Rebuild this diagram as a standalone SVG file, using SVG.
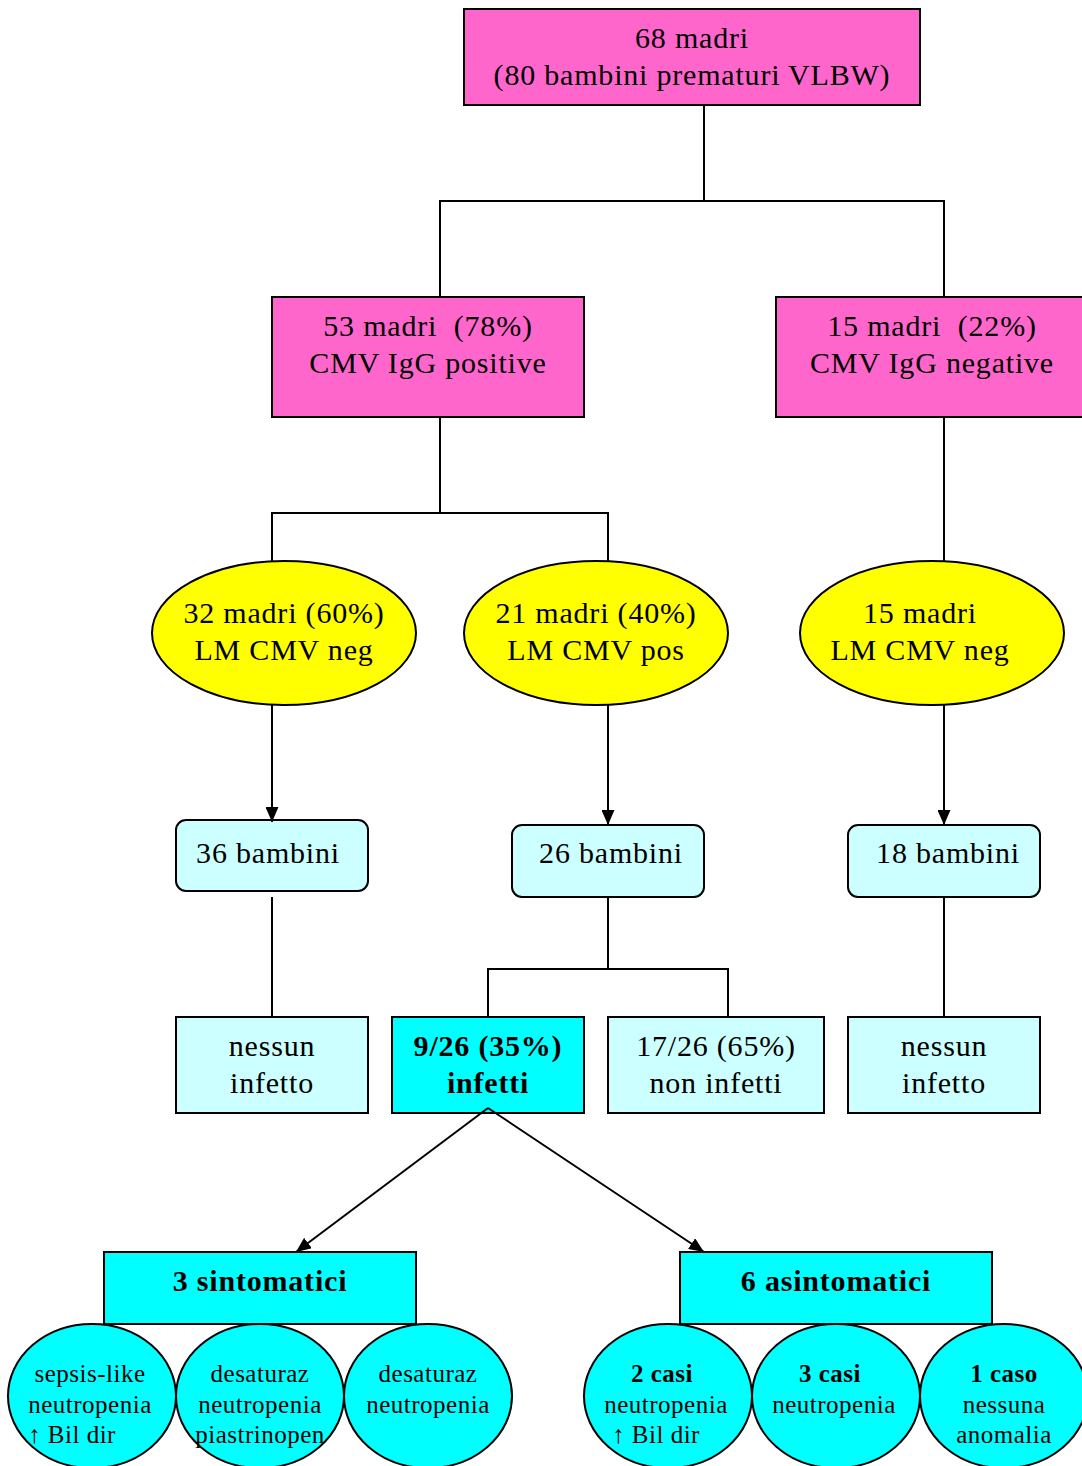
<svg xmlns="http://www.w3.org/2000/svg" width="1082" height="1466" viewBox="0 0 1082 1466">
<defs>
<marker id="ah" markerWidth="15" markerHeight="13" refX="15" refY="6.5" orient="auto" markerUnits="userSpaceOnUse">
<path d="M0,0 L15,6.5 L0,13 Z" fill="#000"/>
</marker>
<style>
.t{font-family:"Liberation Serif","Times New Roman",serif;font-size:30px;letter-spacing:0.8px;text-anchor:middle;fill:#000}
.b{font-weight:bold}
.s{font-family:"Liberation Serif","Times New Roman",serif;font-size:25px;letter-spacing:0.5px;text-anchor:middle;fill:#000}
.pink{fill:#FF66CC;stroke:#000;stroke-width:2}
.yel{fill:#FFFF00;stroke:#000;stroke-width:2}
.lc{fill:#CCFFFF;stroke:#000;stroke-width:2}
.cy{fill:#00FFFF;stroke:#000;stroke-width:2}
.ln{fill:none;stroke:#000;stroke-width:2}
</style>
</defs>
<rect width="1082" height="1466" fill="#fff"/>
<g id="n-top">
<rect class="pink" x="464" y="9" width="456" height="96"/>
<text class="t" x="692" y="48">68 madri</text>
<text class="t" x="692" y="85">(80 bambini prematuri VLBW)</text>
</g>
<g id="n-igg-pos">
<rect class="pink" x="272" y="297" width="312" height="120"/>
<text class="t" x="428" y="336" xml:space="preserve">53 madri  (78%)</text>
<text class="t" x="428" y="373">CMV IgG positive</text>
</g>
<g id="n-igg-neg">
<rect class="pink" x="776" y="297" width="312" height="120"/>
<text class="t" x="932" y="336" xml:space="preserve">15 madri  (22%)</text>
<text class="t" x="932" y="373">CMV IgG negative</text>
</g>
<g id="n-lm-neg">
<ellipse class="yel" cx="284" cy="633" rx="132" ry="72"/>
<text class="t" x="284" y="623">32 madri (60%)</text>
<text class="t" x="284" y="660">LM CMV neg</text>
</g>
<g id="n-lm-pos">
<ellipse class="yel" cx="596" cy="633" rx="132" ry="72"/>
<text class="t" x="596" y="623">21 madri (40%)</text>
<text class="t" x="596" y="660">LM CMV pos</text>
</g>
<g id="n-lm-neg2">
<ellipse class="yel" cx="932" cy="633" rx="132" ry="72"/>
<text class="t" x="920" y="623">15 madri</text>
<text class="t" x="920" y="660">LM CMV neg</text>
</g>
<g id="n-b36">
<rect class="lc" x="176" y="820" width="192" height="71" rx="10"/>
<text class="t" x="268" y="863">36 bambini</text>
</g>
<g id="n-b26">
<rect class="lc" x="512" y="825" width="192" height="72" rx="10"/>
<text class="t" x="611" y="863">26 bambini</text>
</g>
<g id="n-b18">
<rect class="lc" x="848" y="825" width="192" height="72" rx="10"/>
<text class="t" x="948" y="863">18 bambini</text>
</g>
<g id="n-nessun1">
<rect class="lc" x="176" y="1017" width="192" height="96"/>
<text class="t" x="272" y="1056">nessun</text>
<text class="t" x="272" y="1093">infetto</text>
</g>
<g id="n-infetti">
<rect class="cy" x="392" y="1017" width="192" height="96"/>
<text class="t b" x="488" y="1056">9/26 (35%)</text>
<text class="t b" x="488" y="1093">infetti</text>
</g>
<g id="n-noninfetti">
<rect class="lc" x="608" y="1017" width="216" height="96"/>
<text class="t" x="716" y="1056">17/26 (65%)</text>
<text class="t" x="716" y="1093">non infetti</text>
</g>
<g id="n-nessun2">
<rect class="lc" x="848" y="1017" width="192" height="96"/>
<text class="t" x="944" y="1056">nessun</text>
<text class="t" x="944" y="1093">infetto</text>
</g>
<g id="n-sint">
<rect class="cy" x="104" y="1252" width="312" height="72"/>
<text class="t b" x="260" y="1291">3 sintomatici</text>
</g>
<g id="n-asint">
<rect class="cy" x="680" y="1252" width="312" height="72"/>
<text class="t b" x="836" y="1291">6 asintomatici</text>
</g>
<g id="n-s1">
<ellipse class="cy" cx="92" cy="1396" rx="84" ry="72"/>
<text class="s" x="90" y="1382">sepsis-like</text>
<text class="s" x="90" y="1413">neutropenia</text>
<text class="s" x="72" y="1443">↑ Bil dir</text>
</g>
<g id="n-s2">
<ellipse class="cy" cx="260" cy="1396" rx="84" ry="72"/>
<text class="s" x="260" y="1382">desaturaz</text>
<text class="s" x="260" y="1413">neutropenia</text>
<text class="s" x="260" y="1443">piastrinopen</text>
</g>
<g id="n-s3">
<ellipse class="cy" cx="428" cy="1396" rx="84" ry="72"/>
<text class="s" x="428" y="1382">desaturaz</text>
<text class="s" x="428" y="1413">neutropenia</text>
</g>
<g id="n-a1">
<ellipse class="cy" cx="668" cy="1396" rx="84" ry="72"/>
<text class="s b" x="662" y="1382">2 casi</text>
<text class="s" x="666" y="1413">neutropenia</text>
<text class="s" x="656" y="1443">↑ Bil dir</text>
</g>
<g id="n-a2">
<ellipse class="cy" cx="836" cy="1396" rx="84" ry="72"/>
<text class="s b" x="830" y="1382">3 casi</text>
<text class="s" x="834" y="1413">neutropenia</text>
</g>
<g id="n-a3">
<ellipse class="cy" cx="1004" cy="1396" rx="84" ry="72"/>
<text class="s b" x="1004" y="1382">1 caso</text>
<text class="s" x="1004" y="1413">nessuna</text>
<text class="s" x="1004" y="1443">anomalia</text>
</g>
<g id="connectors">
<polyline class="ln" points="704,105 704,201"/>
<polyline class="ln" points="440,297 440,201 944,201 944,297"/>
<polyline class="ln" points="440,417 440,513"/>
<polyline class="ln" points="272,561 272,513 608,513 608,561"/>
<polyline class="ln" points="944,417 944,561"/>
<line class="ln" x1="272" y1="705" x2="272" y2="822" marker-end="url(#ah)"/>
<line class="ln" x1="608" y1="705" x2="608" y2="825" marker-end="url(#ah)"/>
<line class="ln" x1="944" y1="705" x2="944" y2="825" marker-end="url(#ah)"/>
<line class="ln" x1="272" y1="897" x2="272" y2="1017"/>
<polyline class="ln" points="608,897 608,969"/>
<polyline class="ln" points="488,1017 488,969 728,969 728,1017"/>
<line class="ln" x1="944" y1="897" x2="944" y2="1017"/>
<line class="ln" x1="488" y1="1108" x2="296" y2="1252" marker-end="url(#ah)"/>
<line class="ln" x1="488" y1="1108" x2="704" y2="1252" marker-end="url(#ah)"/>
</g>
</svg>
